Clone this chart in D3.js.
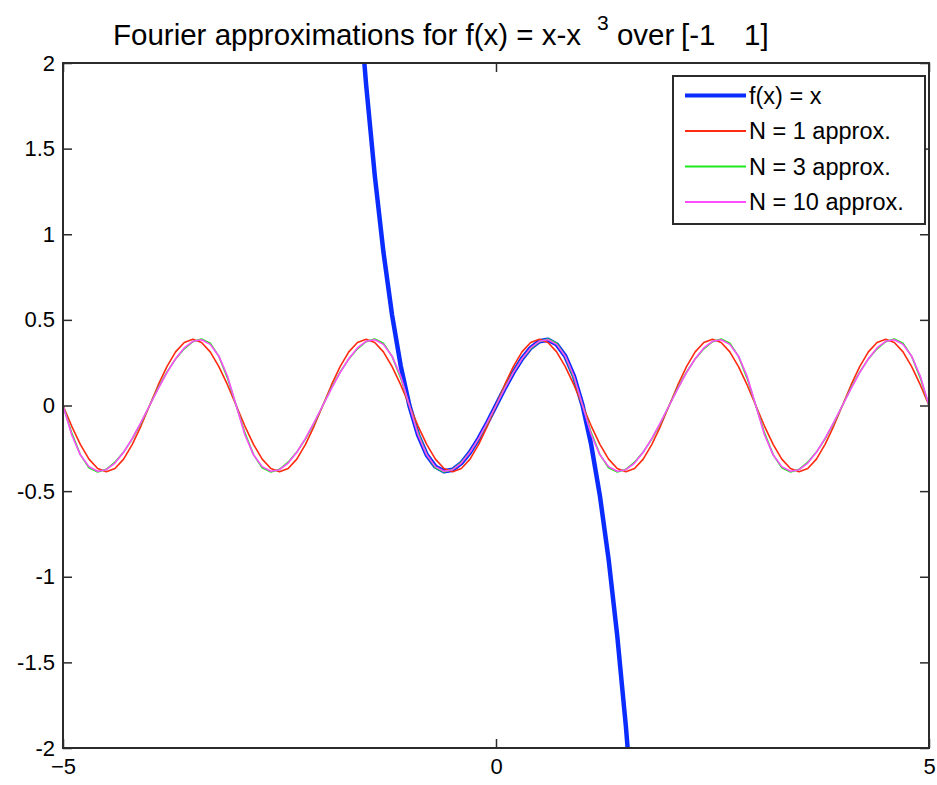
<!DOCTYPE html>
<html lang="en">
<head>
    <meta charset="UTF-8">
    <title>Fourier approximations</title>
    <style>
        *{ box-sizing: border-box; }
        body{ margin: 0; background: #fff; }
        #main{ width: 937px; height: 785px; }
        text{ font-family: "Liberation Sans", Arial, Helvetica, sans-serif; fill: #000; }
    </style>
</head>
<body>
<div id="main"></div>
<script src="https://d3js.org/d3.v7.min.js"></script>
<script>
    /*=========== data ===========*/
    // approximations sampled every 0.1 from -5 to 5 (101 points, one row per period)
    const xApprox = d3.range(101).map(i => +(-5 + i * 0.1).toFixed(1))

    const n1Values = [
        0,-0.120,-0.227,-0.313,-0.368,-0.387,-0.368,-0.313,-0.227,-0.120,0,0.120,0.227,0.313,0.368,0.387,0.368,0.313,0.227,0.120,
        0,-0.120,-0.227,-0.313,-0.368,-0.387,-0.368,-0.313,-0.227,-0.120,0,0.120,0.227,0.313,0.368,0.387,0.368,0.313,0.227,0.120,
        0,-0.120,-0.227,-0.313,-0.368,-0.387,-0.368,-0.313,-0.227,-0.120,0,0.120,0.227,0.313,0.368,0.387,0.368,0.313,0.227,0.120,
        0,-0.120,-0.227,-0.313,-0.368,-0.387,-0.368,-0.313,-0.227,-0.120,0,0.120,0.227,0.313,0.368,0.387,0.368,0.313,0.227,0.120,
        0,-0.120,-0.227,-0.313,-0.368,-0.387,-0.368,-0.313,-0.227,-0.120,0,0.120,0.227,0.313,0.368,0.387,0.368,0.313,0.227,0.120,
        0
    ]
    const n3Values = [
        0,-0.160,-0.287,-0.364,-0.388,-0.373,-0.331,-0.272,-0.195,-0.103,0,0.103,0.195,0.272,0.331,0.373,0.388,0.364,0.287,0.160,
        0,-0.160,-0.287,-0.364,-0.388,-0.373,-0.331,-0.272,-0.195,-0.103,0,0.103,0.195,0.272,0.331,0.373,0.388,0.364,0.287,0.160,
        0,-0.160,-0.287,-0.364,-0.388,-0.373,-0.331,-0.272,-0.195,-0.103,0,0.103,0.195,0.272,0.331,0.373,0.388,0.364,0.287,0.160,
        0,-0.160,-0.287,-0.364,-0.388,-0.373,-0.331,-0.272,-0.195,-0.103,0,0.103,0.195,0.272,0.331,0.373,0.388,0.364,0.287,0.160,
        0,-0.160,-0.287,-0.364,-0.388,-0.373,-0.331,-0.272,-0.195,-0.103,0,0.103,0.195,0.272,0.331,0.373,0.388,0.364,0.287,0.160,
        0
    ]
    const n10Values = [
        0,-0.171,-0.288,-0.357,-0.384,-0.375,-0.336,-0.273,-0.192,-0.099,0,0.099,0.192,0.273,0.336,0.375,0.384,0.357,0.288,0.171,
        0,-0.171,-0.288,-0.357,-0.384,-0.375,-0.336,-0.273,-0.192,-0.099,0,0.099,0.192,0.273,0.336,0.375,0.384,0.357,0.288,0.171,
        0,-0.171,-0.288,-0.357,-0.384,-0.375,-0.336,-0.273,-0.192,-0.099,0,0.099,0.192,0.273,0.336,0.375,0.384,0.357,0.288,0.171,
        0,-0.171,-0.288,-0.357,-0.384,-0.375,-0.336,-0.273,-0.192,-0.099,0,0.099,0.192,0.273,0.336,0.375,0.384,0.357,0.288,0.171,
        0,-0.171,-0.288,-0.357,-0.384,-0.375,-0.336,-0.273,-0.192,-0.099,0,0.099,0.192,0.273,0.336,0.375,0.384,0.357,0.288,0.171,
        0
    ]

    // f(x) curve, only the part near the window
    const xF = [-1.6,-1.5,-1.4,-1.3,-1.2,-1.1,-1.0,-0.9,-0.8,-0.7,-0.6,-0.5,-0.4,-0.3,-0.2,-0.1,0,
                0.1,0.2,0.3,0.4,0.5,0.6,0.7,0.8,0.9,1.0,1.1,1.2,1.3,1.4,1.5,1.6]
    const fValues = [2.496,1.875,1.344,0.897,0.528,0.231,0,-0.171,-0.288,-0.357,-0.384,-0.375,-0.336,-0.273,-0.192,-0.099,0,
                     0.099,0.192,0.273,0.336,0.375,0.384,0.357,0.288,0.171,0,-0.231,-0.528,-0.897,-1.344,-1.875,-2.496]

    const xTicks = [-5, 0, 5]
    const yTicks = [-2, -1.5, -1, -0.5, 0, 0.5, 1, 1.5, 2]
    const legendLabels = ['f(x) = x', 'N = 1 approx.', 'N = 3 approx.', 'N = 10 approx.']

    /*=========== container ===========*/
    const width = 937
    const height = 785
    const plotLeft = 63, plotRight = 929, plotTop = 63, plotBottom = 748

    const svg = d3.select('#main').append('svg')
        .attr('xmlns', 'http://www.w3.org/2000/svg')
        .attr('width', width)
        .attr('height', height)
        .attr('viewBox', `0 0 ${width} ${height}`)

    const xScale = d3.scaleLinear().domain([-5, 5]).range([plotLeft, plotRight])
    const yScale = d3.scaleLinear().domain([-2, 2]).range([plotBottom, plotTop])

    svg.append('clipPath').attr('id', 'plotClip')
        .append('rect')
        .attr('x', plotLeft).attr('y', plotTop)
        .attr('width', plotRight - plotLeft).attr('height', plotBottom - plotTop)

    /*=========== lines ===========*/
    const line = d3.line()
        .x(d => xScale(d[0]))
        .y(d => yScale(d[1]))

    const series = [
        {pts: d3.zip(xF, fValues), color: '#0a2cff', w: 4.5},
        {pts: d3.zip(xApprox, n1Values), color: '#ff2a10', w: 1.6},
        {pts: d3.zip(xApprox, n3Values), color: '#1fe81f', w: 1.6},
        {pts: d3.zip(xApprox, n10Values), color: '#ff4cff', w: 1.6}
    ]

    const plot = svg.append('g').attr('clip-path', 'url(#plotClip)')
    plot.selectAll('path')
        .data(series)
        .join('path')
        .attr('d', d => line(d.pts))
        .attr('fill', 'none')
        .attr('stroke', d => d.color)
        .attr('stroke-width', d => d.w)
        .attr('stroke-linejoin', 'round')

    /*=========== axes ===========*/
    const axisColor = '#2b2b2b'
    const styleAxis = g => {
        g.select('.domain').remove()
        g.selectAll('line').attr('stroke', axisColor).attr('stroke-width', 1.5)
        g.selectAll('text').style('font-size', '22px').attr('fill', '#000')
            .style('font-family', '"Liberation Sans", Arial, sans-serif')
    }

    svg.append('g')
        .attr('transform', `translate(0,${plotBottom})`)
        .call(d3.axisBottom(xScale).tickValues(xTicks).tickSize(-9).tickPadding(10).tickFormat(d3.format('d')))
        .call(styleAxis)
    svg.append('g')
        .attr('transform', `translate(0,${plotTop})`)
        .call(d3.axisTop(xScale).tickValues(xTicks).tickSize(-9).tickFormat(''))
        .call(styleAxis)
    svg.append('g')
        .attr('transform', `translate(${plotLeft},0)`)
        .call(d3.axisLeft(yScale).tickValues(yTicks).tickSize(-9).tickPadding(8).tickFormat(d => String(d)))
        .call(styleAxis)
    svg.append('g')
        .attr('transform', `translate(${plotRight},0)`)
        .call(d3.axisRight(yScale).tickValues(yTicks).tickSize(-9).tickFormat(''))
        .call(styleAxis)

    svg.append('rect')
        .attr('x', plotLeft).attr('y', plotTop)
        .attr('width', plotRight - plotLeft).attr('height', plotBottom - plotTop)
        .attr('fill', 'none')
        .attr('stroke', axisColor)
        .attr('stroke-width', 2)

    /*=========== title ===========*/
    const title = svg.append('text')
        .attr('y', 45)
        .style('font-size', '29.5px')
    title.append('tspan').attr('x', 113).text('Fourier approximations for f(x) = x-x')
    title.append('tspan').attr('dx', 16).attr('dy', -15).style('font-size', '21px').text('3')
    title.append('tspan').attr('dy', 15).text(' over')
    title.append('tspan').attr('x', 681).text('[-1')
    title.append('tspan').attr('x', 744).text('1]')

    /*=========== legend ===========*/
    const legend = svg.append('g')
    legend.append('rect')
        .attr('x', 673).attr('y', 76)
        .attr('width', 252).attr('height', 148)
        .attr('fill', '#fff')
        .attr('stroke', axisColor)
        .attr('stroke-width', 2)

    const rows = legend.selectAll('g.row')
        .data(series)
        .join('g')
        .attr('class', 'row')
        .attr('transform', (d, i) => `translate(0,${95.5 + i * 35.5})`)
    rows.append('line')
        .attr('x1', 685).attr('x2', 746)
        .attr('stroke', d => d.color)
        .attr('stroke-width', d => d.w > 4 ? 4 : 2)
    rows.append('text')
        .attr('x', 749)
        .attr('dy', '0.36em')
        .style('font-size', '23.5px')
        .text((d, i) => legendLabels[i])
</script>
</body>
</html>
